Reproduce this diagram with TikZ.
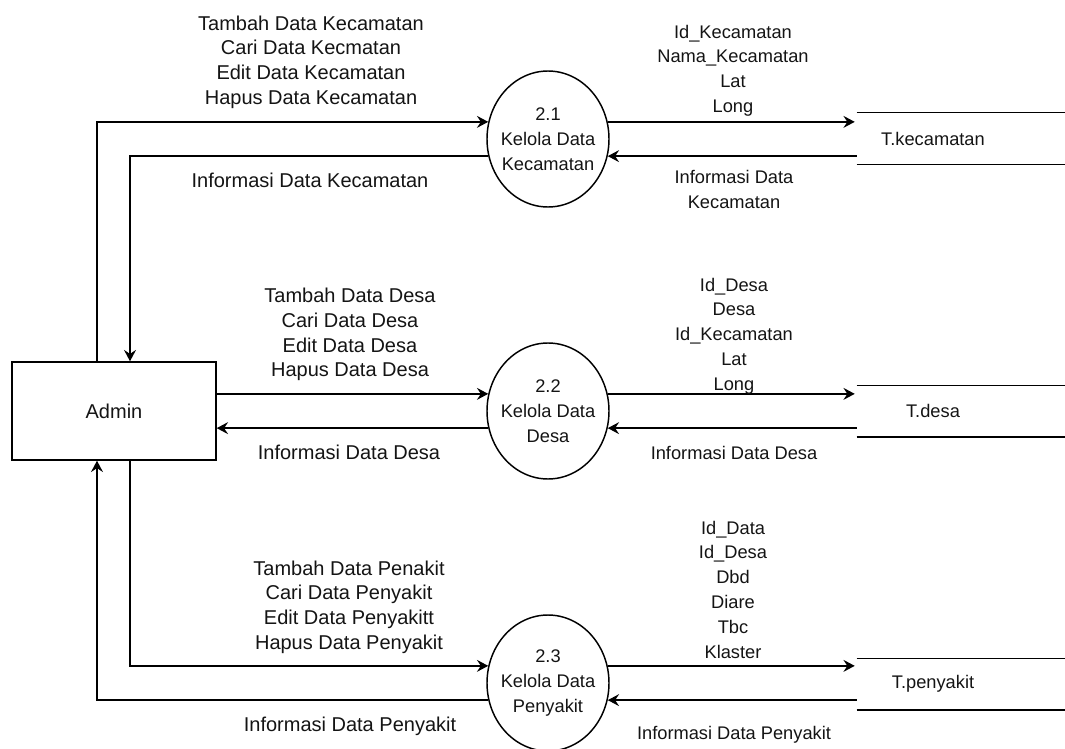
\documentclass[tikz,border=0pt]{standalone}
\usepackage{fontspec}
\setmainfont{Liberation Sans}
\usetikzlibrary{arrows.meta,calc,shapes.geometric}
\begin{document}
\begin{tikzpicture}[x=0.75pt,y=-0.75pt,
  every node/.style={font=\fontsize{15}{18.5}\selectfont,text=black!92},
  smalltext/.style={font=\fontsize{13.7}{18.6}\selectfont},
  proc/.style={ellipse,draw,line width=1.1pt,minimum width=91.5pt,minimum height=102pt,inner sep=0pt},
  entity/.style={rectangle,draw,line width=1.1pt,minimum width=153pt,minimum height=73.5pt},
  store/.style={smalltext,minimum width=114pt,minimum height=38.25pt,inner sep=0pt},
  lbl/.style={align=center,inner sep=0pt},
  flow/.style={line width=1.1pt,-{Stealth[length=8.5pt,width=9pt,inset=3pt]}},
  wire/.style={line width=1.1pt}]
\useasboundingbox (0,0) rectangle (1065,749);

% external entity
\node[entity] (admin) at (114,411) {Admin};

% processes: outline node plus its centred caption
\node[proc] (p21) at (548,139) {};
\node[lbl,smalltext] (p21t) at (p21) {2.1\\Kelola Data\\Kecamatan};
\node[proc] (p22) at (548,411) {};
\node[lbl,smalltext] (p22t) at (p22) {2.2\\Kelola Data\\Desa};
\node[proc] (p23) at (548,683) {};
\node[lbl,smalltext] (p23t) at (p23) {2.3\\Kelola Data\\Penyakit};

% data stores (open-ended rectangles)
\node[store] (s1) at (933,138.5) {T.kecamatan};
\node[store] (s2) at (933,411) {T.desa};
\node[store] (s3) at (933,684) {T.penyakit};
\foreach \s in {s1,s2,s3}{
  \draw[wire] (\s.north west) -- ($(\s.north east)+(60,0)$);
  \draw[wire] (\s.south west) -- ($(\s.south east)+(60,0)$);
}

% Admin <-> 2.1
\draw[flow] ($(admin.north)+(-17,0)$) |- (p21.164);
\draw[flow] (p21.196) -| ($(admin.north)+(16,0)$);
% Admin <-> 2.2
\draw[flow] (admin.east |- p22.164) -- (p22.164);
\draw[flow] (p22.196) -- (admin.east |- p22.196);
% Admin <-> 2.3
\draw[flow] ($(admin.south)+(16,0)$) |- (p23.164);
\draw[flow] (p23.196) -| ($(admin.south)+(-17,0)$);

% processes <-> stores
\draw[flow] (p21.16) -- ($(p21.16 -| s1.west)+(-2,0)$);
\draw[flow] (s1.west |- p21.-16) -- (p21.-16);
\draw[flow] (p22.16) -- ($(p22.16 -| s2.west)+(-2,0)$);
\draw[flow] (s2.west |- p22.-16) -- (p22.-16);
\draw[flow] (p23.16) -- ($(p23.16 -| s3.west)+(-2,0)$);
\draw[flow] (s3.west |- p23.-16) -- (p23.-16);

% flow labels, Admin side
\node[lbl] (l1a) at (311,62) {Tambah Data Kecamatan\\Cari Data Kecmatan\\Edit Data Kecamatan\\Hapus Data Kecamatan};
\node[lbl] (l1b) at (310,180) {Informasi Data Kecamatan};
\node[lbl] (l2a) at (350,334.5) {Tambah Data Desa\\Cari Data Desa\\Edit Data Desa\\Hapus Data Desa};
\node[lbl] (l2b) at (349,452) {Informasi Data Desa};
\node[lbl] (l3a) at (349,607) {Tambah Data Penakit\\Cari Data Penyakit\\Edit Data Penyakitt\\Hapus Data Penyakit};
\node[lbl] (l3b) at (350,726) {Informasi Data Penyakit};

% flow labels, store side
\node[lbl,smalltext] (l1c) at (733,70.5) {Id\_Kecamatan\\Nama\_Kecamatan\\Lat\\Long};
\node[lbl,smalltext] (l1d) at (734,189.5) {Informasi Data\\Kecamatan};
\node[lbl,smalltext] (l2c) at (734,336) {Id\_Desa\\Desa\\Id\_Kecamatan\\Lat\\Long};
\node[lbl,smalltext] (l2d) at (734,453) {Informasi Data Desa};
\node[lbl,smalltext] (l3c) at (733,589.5) {Id\_Data\\Id\_Desa\\Dbd\\Diare\\Tbc\\Klaster};
\node[lbl,smalltext] (l3d) at (734,735) {Informasi Data Penyakit};
\end{tikzpicture}
\end{document}
